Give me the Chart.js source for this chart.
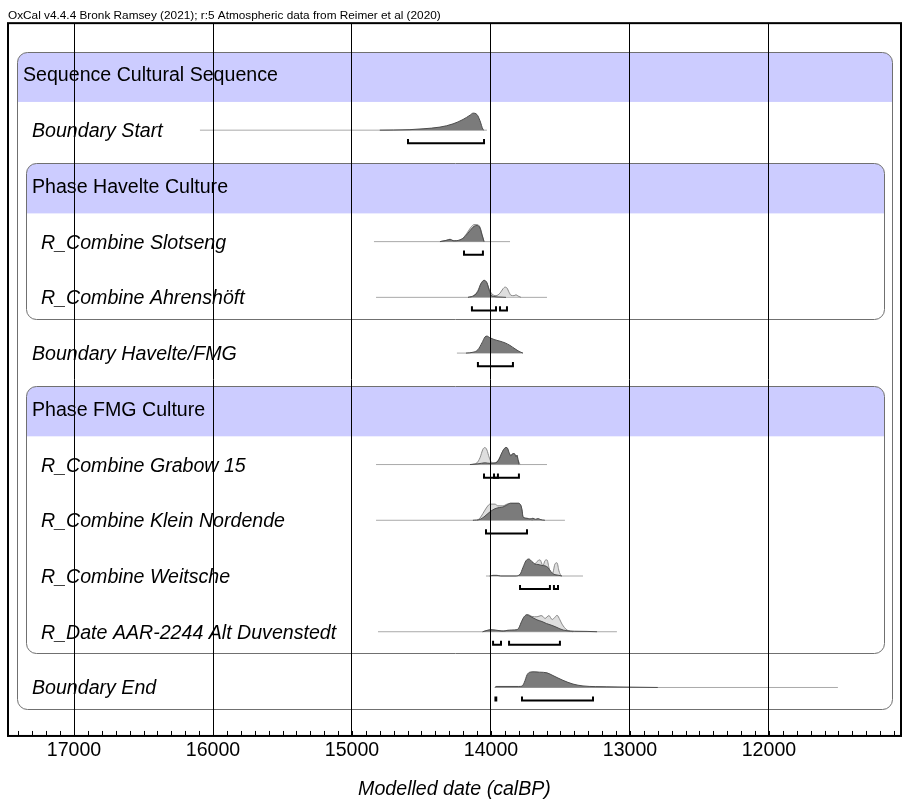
<!DOCTYPE html>
<html>
<head>
<meta charset="utf-8">
<script src="https://cdn.jsdelivr.net/npm/chart.js@4/dist/chart.umd.min.js"></script>
<style>
  html, body { margin: 0; padding: 0; background: #fff; }
  canvas { display: block; }
</style>
</head>
<body>
<canvas id="c" width="904" height="799"></canvas>
<script>
// ---- text ----
const HEADER = 'OxCal v4.4.4 Bronk Ramsey (2021); r:5 Atmospheric data from Reimer et al (2020)';
const AXIS_TITLE = 'Modelled date (calBP)';
const TICK_LABELS = [17000, 16000, 15000, 14000, 13000, 12000];
const X_RANGE = [11050, 17475];

// ---- model structure (one entry per row, top to bottom) ----
const ROW_LABELS = [
  'Sequence Cultural Sequence',
  'Boundary Start',
  'Phase Havelte Culture',
  'R_Combine Slotseng',
  'R_Combine Ahrenshöft',
  'Boundary Havelte/FMG',
  'Phase FMG Culture',
  'R_Combine Grabow 15',
  'R_Combine Klein Nordende',
  'R_Combine Weitsche',
  'R_Date AAR-2244 Alt Duvenstedt',
  'Boundary End'
];
const ROW_IS_GROUP = [true, false, true, false, false, false, true, false, false, false, false, false];
const ROW_DEPTH = [0, 1, 1, 2, 2, 1, 1, 2, 2, 2, 2, 1];
const GROUPS = [[0, 11], [2, 4], [6, 10]];

// ---- probability distributions: [calBP, relative density] ----
const startSpan = [16094, 14029];
const startPost = [[14800,0],[14700,0.01],[14583,0.03],[14489,0.08],[14367,0.18],[14273,0.37],[14201,0.63],[14151,0.88],[14129,1.0],[14101,0.92],[14079,0.55],[14058,0.05],[14050,0]];
const startRanges = [[14597, 14050]];

const slotsengSpan = [14842, 13863];
const slotsengLik = [[14367,0],[14324,0.07],[14295,0.14],[14266,0.05],[14209,0.15],[14173,0.5],[14144,0.85],[14122,1.0],[14101,1.0],[14079,0.85],[14065,0.45],[14050,0]];
const slotsengPost = [[14367,0],[14317,0.08],[14295,0.13],[14273,0.05],[14223,0.1],[14187,0.3],[14151,0.65],[14122,0.9],[14101,0.95],[14079,0.8],[14065,0.4],[14050,0]];
const slotsengRanges = [[14194, 14058]];

const ahrenSpan = [14827, 13597];
const ahrenLik = [[14165,0],[14122,0.12],[14094,0.4],[14072,0.82],[14050,1.0],[14029,0.85],[14014,0.5],[13993,0.2],[13964,0.1],[13935,0.25],[13914,0.5],[13899,0.6],[13885,0.55],[13870,0.3],[13856,0.12],[13834,0.1],[13820,0.15],[13806,0.08],[13784,0]];
const ahrenPost = [[14165,0],[14122,0.1],[14094,0.35],[14072,0.8],[14050,1.0],[14029,0.85],[14014,0.45],[14000,0.15],[13978,0.05],[13935,0.02],[13892,0]];
const ahrenRanges = [[14137, 13964], [13935, 13885]];

const havFmgSpan = [14245, 13770];
const havFmgPost = [[14180,0],[14129,0.05],[14094,0.2],[14065,0.6],[14043,0.95],[14029,1.0],[14007,0.9],[13978,0.8],[13935,0.7],[13899,0.6],[13863,0.45],[13827,0.25],[13798,0.1],[13770,0]];
const havFmgRanges = [[14094, 13842]];

const grabowSpan = [14827, 13597];
const grabowLik = [[14137,0],[14101,0.1],[14079,0.4],[14058,0.9],[14043,1.0],[14029,0.85],[14014,0.45],[13993,0.1],[13964,0.12],[13935,0.45],[13914,0.8],[13892,1.0],[13878,0.9],[13863,0.55],[13849,0.6],[13834,0.65],[13820,0.5],[13813,0.55],[13806,0.3],[13791,0]];
const grabowPost = [[14151,0],[14094,0.04],[14043,0.1],[14007,0.07],[13971,0.08],[13942,0.3],[13921,0.7],[13899,0.98],[13885,1.0],[13870,0.7],[13856,0.5],[13842,0.65],[13827,0.6],[13820,0.45],[13813,0.55],[13806,0.3],[13798,0]];
const grabowRanges = [[14050, 13799], [13978, 13950]];

const kleinSpan = [14827, 13468];
const kleinLik = [[14100,0],[14080,0.12],[14058,0.4],[14029,0.78],[14007,0.95],[13971,0.95],[13950,0.85],[13914,0.85],[13885,0.95],[13860,1.0],[13806,1.0],[13784,0.85],[13775,0.5],[13770,0.2],[13741,0.1],[13700,0]];
const kleinPost = [[14130,0],[14080,0.05],[14050,0.2],[14007,0.5],[13971,0.68],[13940,0.75],[13914,0.78],[13885,0.9],[13860,1.0],[13806,1.0],[13784,0.85],[13775,0.5],[13770,0.2],[13741,0.12],[13720,0.08],[13698,0.12],[13680,0.06],[13660,0.1],[13647,0.05],[13612,0]];
const kleinRanges = [[14036, 13741]];

const weitscheSpan = [14036, 13338];
const weitscheLik = [[13791,0],[13770,0.3],[13748,0.75],[13727,0.9],[13705,0.8],[13683,0.72],[13669,0.85],[13647,0.95],[13633,0.7],[13626,0.6],[13612,0.9],[13597,0.95],[13583,0.5],[13568,0.1],[13554,0.2],[13540,0.7],[13525,0.78],[13511,0.3],[13496,0]];
const weitschePost = [[14010,0],[13985,0.04],[13957,0.04],[13930,0],[13827,0],[13791,0.1],[13770,0.5],[13748,0.9],[13727,1.0],[13705,0.85],[13683,0.7],[13662,0.68],[13633,0.62],[13612,0.6],[13590,0.5],[13568,0.25],[13547,0.1],[13518,0.05],[13489,0]];
const weitscheRanges = [[13791, 13576], [13547, 13518]];

const aarSpan = [14813, 13094];
const aarLik = [[14060,0],[14029,0.06],[14000,0.1],[13970,0.08],[13935,0.05],[13885,0.07],[13813,0.1],[13798,0.22],[13780,0.55],[13760,0.88],[13734,1.0],[13705,0.9],[13669,0.88],[13640,0.95],[13626,0.9],[13612,0.78],[13583,0.95],[13560,0.72],[13540,0.85],[13525,0.97],[13504,0.7],[13489,0.45],[13453,0.1],[13410,0]];
const aarPost = [[14060,0],[14029,0.08],[14000,0.12],[13970,0.1],[13935,0.06],[13910,0.03],[13885,0.08],[13850,0.1],[13813,0.12],[13798,0.25],[13780,0.6],[13760,0.9],[13741,1.0],[13720,0.92],[13698,0.82],[13669,0.7],[13633,0.6],[13600,0.48],[13554,0.35],[13525,0.25],[13504,0.17],[13480,0.1],[13453,0.06],[13400,0.03],[13309,0.02],[13237,0]];
const aarRanges = [[13985, 13928], [13870, 13504]];

const endSpan = [13971, 11504];
const endPost = [[13971,0],[13965,0.06],[13800,0.06],[13777,0.08],[13760,0.3],[13740,0.75],[13719,0.9],[13690,0.92],[13650,0.9],[13597,0.86],[13554,0.7],[13482,0.42],[13410,0.2],[13338,0.09],[13250,0.05],[13166,0.04],[13000,0.02],[12800,0]];
const endRanges = [[13968, 13962], [13777, 13266]];

// row -> distributions
const ENTRIES = [
  { row: 1,  span: startSpan,    lik: null,        post: startPost,    ranges: startRanges },
  { row: 3,  span: slotsengSpan, lik: slotsengLik, post: slotsengPost, ranges: slotsengRanges },
  { row: 4,  span: ahrenSpan,    lik: ahrenLik,    post: ahrenPost,    ranges: ahrenRanges },
  { row: 5,  span: havFmgSpan,   lik: null,        post: havFmgPost,   ranges: havFmgRanges },
  { row: 7,  span: grabowSpan,   lik: grabowLik,   post: grabowPost,   ranges: grabowRanges },
  { row: 8,  span: kleinSpan,    lik: kleinLik,    post: kleinPost,    ranges: kleinRanges },
  { row: 9,  span: weitscheSpan, lik: weitscheLik, post: weitschePost, ranges: weitscheRanges },
  { row: 10, span: aarSpan,      lik: aarLik,      post: aarPost,      ranges: aarRanges },
  { row: 11, span: endSpan,      lik: null,        post: endPost,      ranges: endRanges }
];

// ---- drawing ----
const FONT = '"Liberation Sans", Arial, Helvetica, sans-serif';
const FONT_SIZE = 19.6;
const PEAK = 0.305;      // distribution height, in row units
const BR_OFF = 0.235;    // range bar offset below the baseline
const BR_TICK = 0.075;   // range bar end tick height

const datasets = [];
ENTRIES.forEach(e => {
  const r = e.row;
  datasets.push({
    data: e.span.map(x => ({ x, y: r })),
    borderColor: '#a9a9a9', borderWidth: 1, pointRadius: 0, fill: false, order: 3
  });
  if (e.lik) {
    datasets.push({
      data: e.lik.map(([x, h]) => ({ x, y: r - h * PEAK })),
      borderColor: '#8a8a8a', backgroundColor: '#dedede', borderWidth: 1,
      fill: { value: r }, cubicInterpolationMode: 'monotone', pointRadius: 0, order: 2
    });
  }
  datasets.push({
    data: e.post.map(([x, h]) => ({ x, y: r - h * PEAK })),
    borderColor: '#4d4d4d', backgroundColor: '#7b7b7b', borderWidth: 1,
    fill: { value: r }, cubicInterpolationMode: 'monotone', pointRadius: 0, order: 1
  });
  e.ranges.forEach(([a, b]) => {
    const yb = r + BR_OFF, yt = r + BR_OFF - BR_TICK;
    datasets.push({
      data: [{ x: a, y: yt }, { x: a, y: yb }, { x: b, y: yb }, { x: b, y: yt }],
      borderColor: '#000', borderWidth: 2, borderJoinStyle: 'miter', borderCapStyle: 'butt',
      pointRadius: 0, fill: false, tension: 0, order: 0
    });
  });
});

function roundRectPath(ctx, x, y, w, h, r) {
  ctx.beginPath();
  ctx.moveTo(x + r, y);
  ctx.lineTo(x + w - r, y);
  ctx.arcTo(x + w, y, x + w, y + r, r);
  ctx.lineTo(x + w, y + h - r);
  ctx.arcTo(x + w, y + h, x + w - r, y + h, r);
  ctx.lineTo(x + r, y + h);
  ctx.arcTo(x, y + h, x, y + h - r, r);
  ctx.lineTo(x, y + r);
  ctx.arcTo(x, y, x + r, y, r);
  ctx.closePath();
}

// group panels and row names under the grid; frame and minor ticks on top
const panels = {
  id: 'panels',
  beforeDraw(chart) {
    const { ctx, chartArea: a } = chart;
    const y = chart.scales.y;
    ctx.save();
    ctx.fillStyle = '#fff';
    ctx.fillRect(0, 0, chart.width, chart.height);
    GROUPS.forEach(([r0, r1]) => {
      const d = ROW_DEPTH[r0];
      const left = Math.round(a.left + 9 + 9 * d) + 0.5;
      const right = Math.round(a.right - 9 - 8 * d) + 0.5;
      const top = Math.round(y.getPixelForValue(r0) - 22.5) + 0.5;
      const band = y.getPixelForValue(r0) + 27.5;
      const bottom = Math.round(y.getPixelForValue(r1) + 21.5) + 0.5;
      roundRectPath(ctx, left, top, right - left, bottom - top, 10);
      ctx.save();
      ctx.clip();
      ctx.fillStyle = '#ccccff';
      ctx.fillRect(left, top, right - left, band - top);
      ctx.restore();
      roundRectPath(ctx, left, top, right - left, bottom - top, 10);
      ctx.strokeStyle = '#707070';
      ctx.lineWidth = 1;
      ctx.stroke();
    });
    ctx.fillStyle = '#000';
    ctx.textBaseline = 'alphabetic';
    ctx.textAlign = 'left';
    ROW_LABELS.forEach((t, i) => {
      ctx.font = (ROW_IS_GROUP[i] ? '' : 'italic ') + FONT_SIZE + 'px ' + FONT;
      ctx.fillText(t, a.left + 15 + 9 * ROW_DEPTH[i], y.getPixelForValue(i) + 7);
    });
    ctx.restore();
  },
  afterDraw(chart) {
    const { ctx, chartArea: a } = chart;
    const x = chart.scales.x;
    ctx.save();
    ctx.strokeStyle = '#000';
    ctx.lineWidth = 1;
    ctx.beginPath();
    x.ticks.forEach(t => {
      const px = Math.round(x.getPixelForValue(t.value)) + 0.5;
      ctx.moveTo(px, a.bottom);
      ctx.lineTo(px, a.bottom - 5);
    });
    ctx.stroke();
    ctx.lineWidth = 2;
    ctx.strokeRect(a.left, a.top, a.right - a.left, a.bottom - a.top);
    ctx.restore();
  }
};

new Chart(document.getElementById('c'), {
  type: 'line',
  data: { datasets },
  options: {
    responsive: false,
    animation: false,
    events: [],
    layout: { padding: { left: 8, right: 3, top: 0, bottom: 0 } },
    plugins: {
      legend: { display: false },
      tooltip: { enabled: false },
      title: {
        display: true, text: HEADER, align: 'start', color: '#000',
        font: { family: FONT, size: 11.8, weight: 'normal' },
        padding: { top: 9, bottom: 0 }
      }
    },
    scales: {
      x: {
        type: 'linear', reverse: true, min: X_RANGE[0], max: X_RANGE[1],
        afterBuildTicks: axis => {
          const t = [];
          for (let v = Math.ceil(X_RANGE[0] / 100) * 100; v <= X_RANGE[1]; v += 100) t.push({ value: v });
          axis.ticks = t;
        },
        ticks: {
          autoSkip: false, maxRotation: 0, minRotation: 0, padding: 3, color: '#000',
          font: { family: FONT, size: FONT_SIZE },
          callback: v => (TICK_LABELS.includes(v) ? String(v) : '')
        },
        grid: {
          z: 1, drawTicks: false, lineWidth: 1,
          color: c => (c.tick && TICK_LABELS.includes(c.tick.value)) ? '#000' : 'rgba(0,0,0,0)'
        },
        border: { display: false },
        title: {
          display: true, text: AXIS_TITLE, color: '#000',
          font: { family: FONT, size: FONT_SIZE, style: 'italic' },
          padding: { top: 12, bottom: -2 }
        }
      },
      y: { type: 'linear', reverse: true, min: -0.92, max: 11.87, display: false }
    }
  },
  plugins: [panels]
});
</script>
</body>
</html>
